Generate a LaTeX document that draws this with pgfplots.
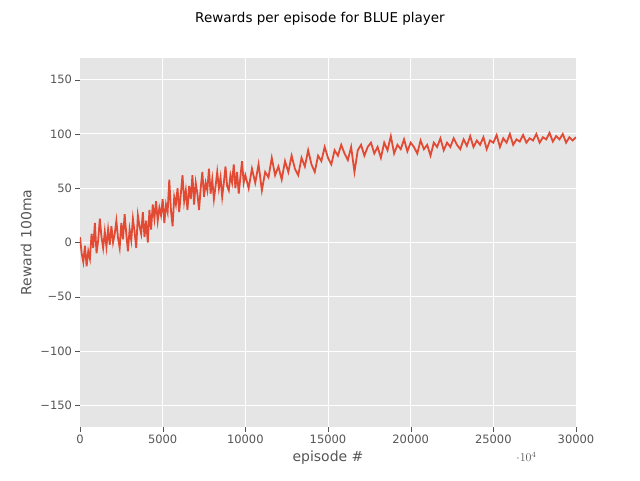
\documentclass[border=0pt]{standalone}
\usepackage{pgfplots}
\pgfplotsset{compat=1.18}
\usepackage{fontspec}
\setmainfont{DejaVu Sans}
\definecolor{bgg}{HTML}{E5E5E5}
\definecolor{lin}{HTML}{E24A33}
\definecolor{tk}{HTML}{555555}
\begin{document}
\begin{tikzpicture}
\path (-80pt,-53pt) rectangle (560pt,427pt);
\node[font=\fontsize{13.5}{16}\selectfont] at (240pt,408pt) {Rewards per episode for BLUE player};
\begin{axis}[at={(0,0)},anchor=south west,scale only axis,width=496pt,height=369pt,
xmin=0,xmax=30000,ymin=-170,ymax=170,
axis background/.style={fill=bgg},axis line style={draw=none},
grid=major,grid style={white,line width=1pt},
tick style={tk},major tick length=4.5pt,tick align=outside,
xtick pos=left,ytick pos=left,
xtick={0,5000,...,30000},ytick={-150,-100,...,150},
xticklabels={0,5000,10000,15000,20000,25000,30000},
yticklabels={−150,−100,−50,0,50,100,150},
tick label style={font=\fontsize{11.5}{13}\selectfont,text=tk},
xlabel={episode \#},ylabel={Reward 100ma},
label style={font=\fontsize{14}{16}\selectfont,text=tk},
ylabel style={yshift=2pt},
axis on top=false]
\addplot[lin,line width=1.8pt] coordinates {
(0,5)(100,-10)(200,-18)(300,-3)(400,-22)(500,-8)(600,-15)(700,8)(800,-5)(900,18)(1000,-10)(1100,2)(1200,22)(1300,5)(1400,-5)(1500,10)(1600,-4)(1700,12)(1800,-2)(1900,15)(2000,0)(2100,8)(2200,20)(2300,4)(2400,-5)(2500,18)(2600,3)(2700,26)(2800,8)(2900,-8)(3000,12)(3100,2)(3200,22)(3300,10)(3400,-5)(3500,25)(3600,15)(3700,8)(3800,28)(3900,5)(4000,20)(4100,0)(4200,30)(4300,12)(4400,35)(4500,22)(4600,38)(4700,20)(4800,32)(4900,25)(5000,40)(5100,18)(5200,35)(5300,28)(5400,58)(5500,30)(5600,15)(5700,42)(5800,35)(5900,50)(6000,28)(6100,45)(6200,62)(6300,38)(6400,48)(6500,30)(6600,52)(6700,40)(6800,62)(6900,35)(7000,55)(7100,45)(7200,30)(7300,50)(7400,65)(7500,42)(7600,55)(7700,48)(7800,68)(7900,45)(8000,58)(8100,40)(8200,52)(8300,65)(8400,50)(8500,60)(8600,42)(8700,55)(8800,70)(8900,52)(9000,48)(9100,62)(9200,55)(9300,72)(9400,50)(9500,65)(9600,45)(9700,60)(9800,75)(9900,55)(10000,62)(10200,50)(10400,68)(10600,55)(10800,72)(11000,48)(11200,65)(11400,60)(11600,78)(11800,62)(12000,70)(12200,58)(12400,75)(12600,65)(12800,80)(13000,68)(13200,62)(13400,78)(13600,70)(13800,85)(14000,72)(14200,65)(14400,80)(14600,75)(14800,88)(15000,78)(15200,72)(15400,85)(15600,80)(15800,90)(16000,82)(16200,76)(16400,88)(16600,65)(16800,85)(17000,90)(17200,80)(17400,88)(17600,92)(17800,82)(18000,88)(18200,78)(18400,92)(18600,85)(18800,98)(19000,82)(19200,90)(19400,86)(19600,95)(19800,84)(20000,92)(20200,88)(20400,82)(20600,94)(20800,86)(21000,90)(21200,80)(21400,92)(21600,88)(21800,96)(22000,85)(22200,92)(22400,88)(22600,96)(22800,90)(23000,86)(23200,95)(23400,89)(23600,98)(23800,88)(24000,94)(24200,90)(24400,97)(24600,86)(24800,94)(25000,92)(25200,99)(25400,88)(25600,96)(25800,92)(26000,100)(26200,90)(26400,95)(26600,93)(26800,99)(27000,92)(27200,96)(27400,94)(27600,100)(27800,92)(28000,97)(28200,95)(28400,101)(28600,93)(28800,98)(29000,95)(29200,100)(29400,92)(29600,97)(29800,94)(30000,97)
};
\end{axis}
\end{tikzpicture}
\end{document}
